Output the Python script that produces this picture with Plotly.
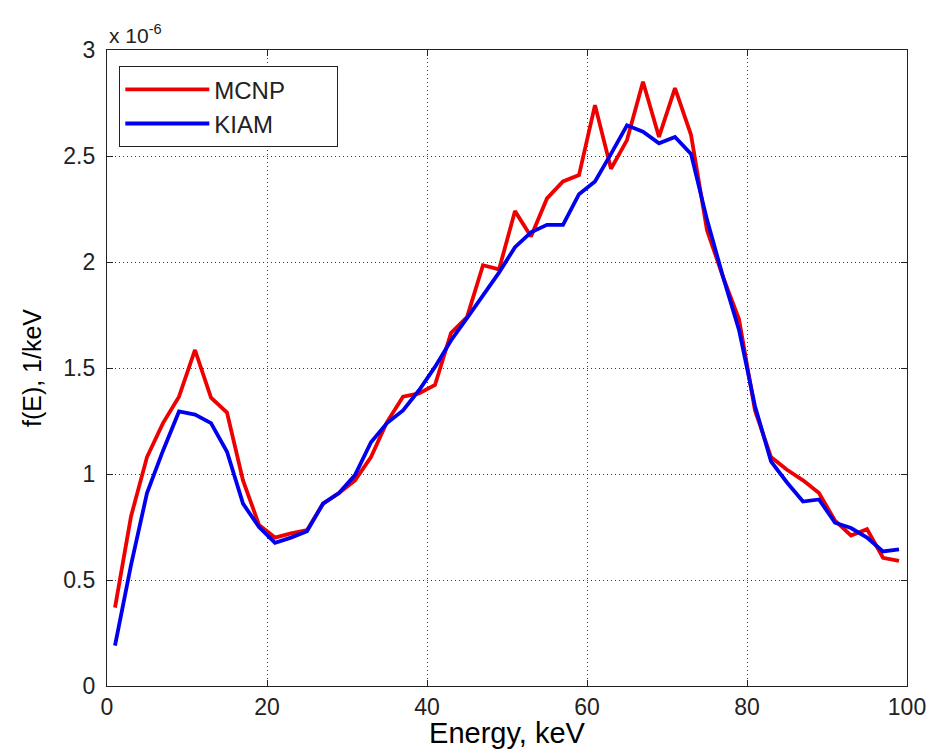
import plotly.graph_objects as go

energy = list(range(1, 100, 2))

mcnp = [0.37, 0.80, 1.08, 1.24, 1.365, 1.585, 1.36, 1.29, 0.97, 0.76,
        0.70, 0.72, 0.735, 0.86, 0.91, 0.97, 1.08, 1.245, 1.365, 1.38,
        1.42, 1.665, 1.74, 1.985, 1.965, 2.24, 2.12, 2.30, 2.38, 2.41,
        2.74, 2.44, 2.575, 2.85, 2.59, 2.82, 2.60, 2.15, 1.93, 1.73,
        1.30, 1.08, 1.02, 0.97, 0.91, 0.78, 0.71, 0.74, 0.605, 0.59]

kiam = [0.19, 0.57, 0.91, 1.11, 1.295, 1.28, 1.24, 1.105, 0.86, 0.75,
        0.675, 0.70, 0.73, 0.86, 0.91, 0.995, 1.15, 1.24, 1.30, 1.395,
        1.505, 1.63, 1.735, 1.84, 1.95, 2.07, 2.14, 2.175, 2.175, 2.32,
        2.38, 2.51, 2.645, 2.615, 2.56, 2.59, 2.51, 2.20, 1.93, 1.68,
        1.32, 1.06, 0.96, 0.87, 0.88, 0.77, 0.745, 0.70, 0.635, 0.645]

x_ticks = [0, 20, 40, 60, 80, 100]
y_ticks = [0, 0.5, 1, 1.5, 2, 2.5, 3]
y_ticktext = ["0", "0.5", "1", "1.5", "2", "2.5", "3"]

FONT = "Liberation Sans, Arial, sans-serif"
PAD = "\u00a0" * 7

fig = go.Figure()
fig.add_trace(go.Scatter(x=energy, y=mcnp, mode="lines", name="MCNP" + PAD,
                         line=dict(color="#ee0000", width=3.8)))
fig.add_trace(go.Scatter(x=energy, y=kiam, mode="lines", name="KIAM" + PAD,
                         line=dict(color="#0000ee", width=3.8)))

axis_common = dict(showline=True, linecolor="#222", linewidth=1.3, mirror="ticks",
                   ticks="inside", ticklen=6, tickcolor="#222", automargin=False,
                   showgrid=True, gridcolor="#333", griddash="1px,3px", gridwidth=1,
                   zeroline=False, tickfont=dict(family=FONT, size=23, color="#222"))

fig.update_xaxes(range=[0, 100], tickvals=x_ticks, **axis_common,
                 title=dict(text="Energy, keV", font=dict(family=FONT, size=29, color="black"),
                            standoff=2))
fig.update_yaxes(range=[0, 3], tickvals=y_ticks, ticktext=y_ticktext, ticklabelstandoff=6,
                 **axis_common,
                 title=dict(text="f(E), 1/keV", font=dict(family=FONT, size=25, color="black"),
                            standoff=14))

fig.add_annotation(text="x 10<sup>-6</sup>", xref="paper", yref="paper", x=0.0, y=1.0,
                   xanchor="left", yanchor="bottom", showarrow=False, yshift=1,
                   font=dict(family=FONT, size=21, color="#222"))

fig.update_layout(
    width=930, height=749,
    margin=dict(l=107, r=23, t=50, b=63),
    paper_bgcolor="white", plot_bgcolor="white",
    showlegend=True,
    legend=dict(x=0.015, y=0.975, xanchor="left", yanchor="top",
                bordercolor="#222", borderwidth=1.3, bgcolor="white",
                font=dict(family=FONT, size=24, color="#222"),
                itemwidth=84, tracegroupgap=0),
)

fig.write_html("out.html", config={"displayModeBar": False},
               post_script="document.body.style.margin='0';document.body.style.overflow='hidden';")
